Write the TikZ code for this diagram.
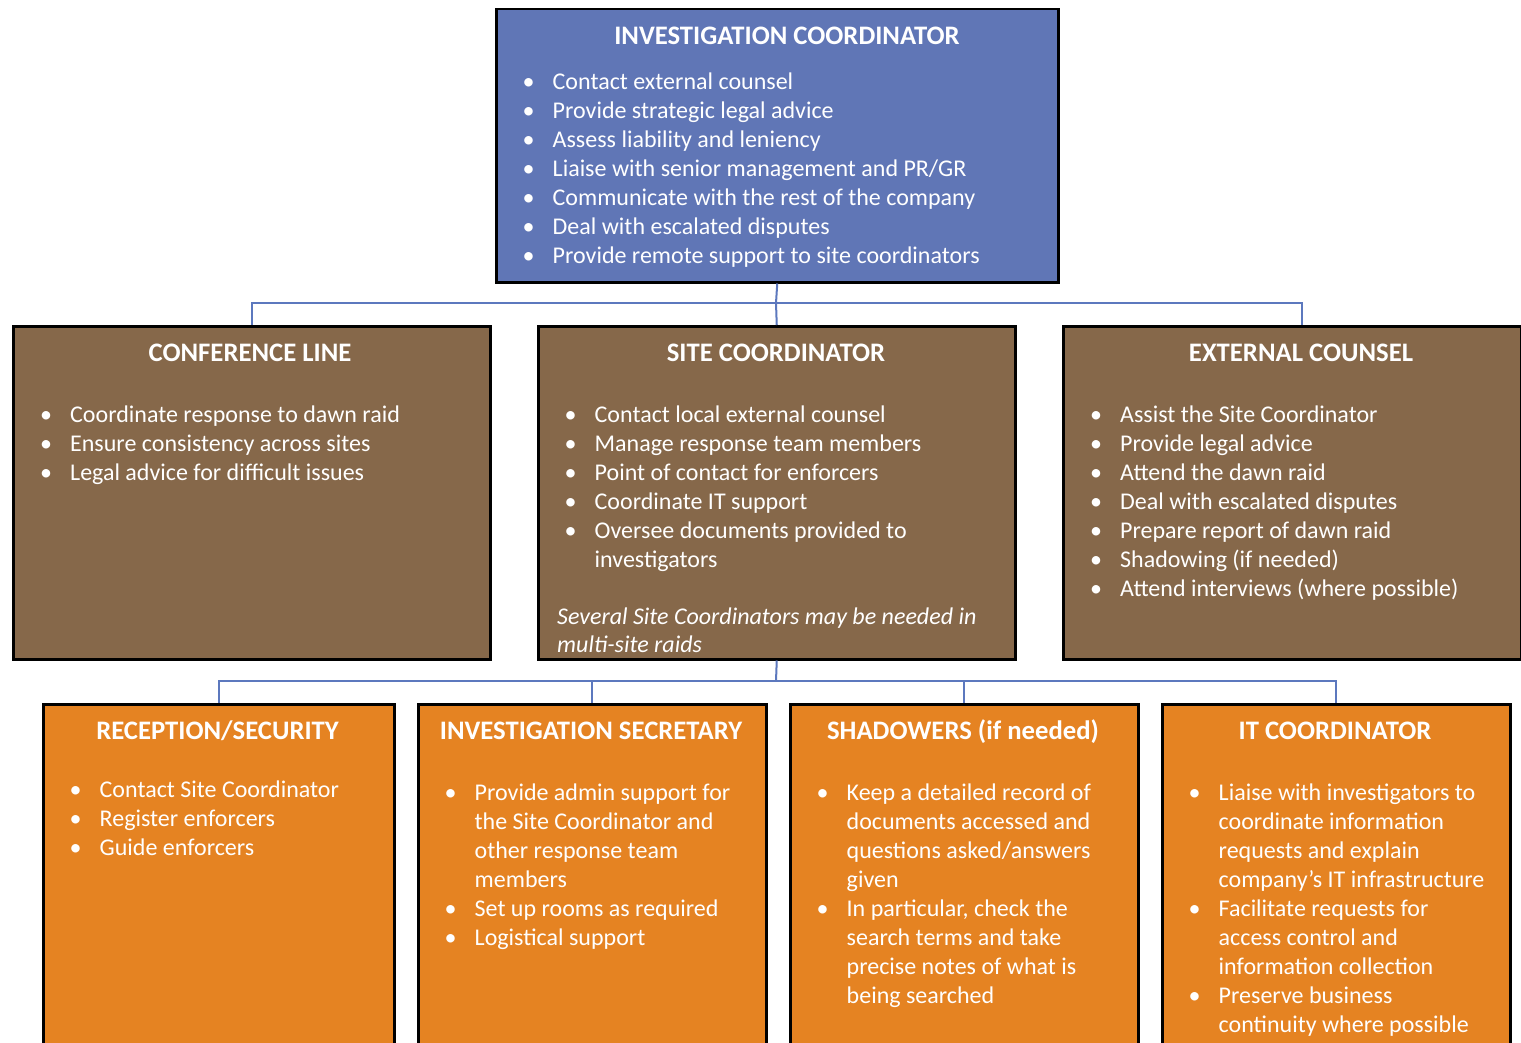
\documentclass[tikz,border=0pt]{standalone}
\usepackage{fontspec}
\setmainfont{Carlito}
\definecolor{icblue}{RGB}{96,118,182}
\definecolor{tierbrown}{RGB}{134,104,74}
\definecolor{tierorange}{RGB}{229,131,34}
\definecolor{linkblue}{RGB}{92,120,190}
% bullet list: bullet column + text column, one row per printed line
\newcommand{\blist}[1]{\begin{tabular}[t]{@{}p{30pt}@{}l@{}}#1\end{tabular}}
\newcommand{\plainlines}[1]{\begin{tabular}[t]{@{}l@{}}#1\end{tabular}}
\tikzset{
  box/.style={draw=black, line width=2.5pt, rectangle, inner sep=0pt, anchor=north west},
  topbox/.style={box, fill=icblue},
  midbox/.style={box, fill=tierbrown},
  lowbox/.style={box, fill=tierorange},
  boxtitle/.style={font=\fontsize{26.7}{30}\selectfont\bfseries, text=white, anchor=base, inner sep=0pt},
  body/.style={font=\fontsize{24}{29}\selectfont, text=white, anchor=base west, inner sep=0pt, align=left},
  link/.style={draw=linkblue, line width=2pt}
}
\begin{document}
\begin{tikzpicture}[x=1pt,y=-1pt]
\clip (0,0) rectangle (1521,1043);
\fill[white] (0,0) rectangle (1521,1043);

% ---- top tier ----
\node[topbox, minimum width=562pt, minimum height=273pt] (ic) at (495,8) {};
\node[boxtitle] (ict) at (787,45) {INVESTIGATION COORDINATOR};
\node[body] (icb) at (522.5,90) {\blist{
• & Contact external counsel\\
• & Provide strategic legal advice\\
• & Assess liability and leniency\\
• & Liaise with senior management and PR/GR\\
• & Communicate with the rest of the company\\
• & Deal with escalated disputes\\
• & Provide remote support to site coordinators}};

% ---- middle tier ----
\node[midbox, minimum width=477pt, minimum height=333pt] (cl) at (12,325) {};
\node[midbox, minimum width=477pt, minimum height=333pt] (sc) at (537,325) {};
\node[midbox, minimum width=458pt, minimum height=333pt] (ec) at (1062,325) {};

\node[boxtitle] (clt) at (250,361) {CONFERENCE LINE};
\node[boxtitle] (sct) at (776,361) {SITE COORDINATOR};
\node[boxtitle] (ect) at (1301,361) {EXTERNAL COUNSEL};

\node[body] (clb) at (40,422) {\blist{
• & Coordinate response to dawn raid\\
• & Ensure consistency across sites\\
• & Legal advice for difficult issues}};
\node[body] (scb) at (564.5,422) {\blist{
• & Contact local external counsel\\
• & Manage response team members\\
• & Point of contact for enforcers\\
• & Coordinate IT support\\
• & Oversee documents provided to\\
  & investigators}};
\node[body, font=\itshape\fontsize{24}{28}\selectfont] (scn) at (557,624)
  {\plainlines{Several Site Coordinators may be needed in\\multi-site raids}};
\node[body] (ecb) at (1090,422) {\blist{
• & Assist the Site Coordinator\\
• & Provide legal advice\\
• & Attend the dawn raid\\
• & Deal with escalated disputes\\
• & Prepare report of dawn raid\\
• & Shadowing (if needed)\\
• & Attend interviews (where possible)}};

% ---- lower tier ----
\node[lowbox, minimum width=351pt, minimum height=360pt] (rs) at (42,703) {};
\node[lowbox, minimum width=348pt, minimum height=360pt] (is) at (417,703) {};
\node[lowbox, minimum width=348pt, minimum height=360pt] (sh) at (789,703) {};
\node[lowbox, minimum width=348pt, minimum height=360pt] (it) at (1161,703) {};

\node[boxtitle] (rst) at (217.5,739) {RECEPTION/SECURITY};
\node[boxtitle] (ist) at (591,739) {INVESTIGATION SECRETARY};
\node[boxtitle] (sht) at (963,739) {SHADOWERS (if needed)};
\node[boxtitle] (itt) at (1335,739) {IT COORDINATOR};

\node[body] (rsb) at (69.5,797) {\blist{
• & Contact Site Coordinator\\
• & Register enforcers\\
• & Guide enforcers}};
\node[body] (isb) at (444.5,800) {\blist{
• & Provide admin support for\\
  & the Site Coordinator and\\
  & other response team\\
  & members\\
• & Set up rooms as required\\
• & Logistical support}};
\node[body] (shb) at (816.5,800) {\blist{
• & Keep a detailed record of\\
  & documents accessed and\\
  & questions asked/answers\\
  & given\\
• & In particular, check the\\
  & search terms and take\\
  & precise notes of what is\\
  & being searched}};
\node[body] (itb) at (1188.5,800) {\blist{
• & Liaise with investigators to\\
  & coordinate information\\
  & requests and explain\\
  & company’s IT infrastructure\\
• & Facilitate requests for\\
  & access control and\\
  & information collection\\
• & Preserve business\\
  & continuity where possible}};

% ---- connectors ----
\coordinate (j1) at (776,303);
\coordinate (ecin) at ([xshift=10pt]ec.north);
\draw[link] (ic.south) -- (j1);
\draw[link] (j1) -| (cl.north);
\draw[link] (j1) -- (sc.north);
\draw[link] (j1) -| (ecin);

\coordinate (j2) at (776,681);
\draw[link] (sc.south) -- (j2);
\draw[link] (j2) -| (rs.north);
\draw[link] (j2) -| (is.north);
\draw[link] (j2) -| (sh.north);
\draw[link] (j2) -| (it.north);
\end{tikzpicture}
\end{document}
